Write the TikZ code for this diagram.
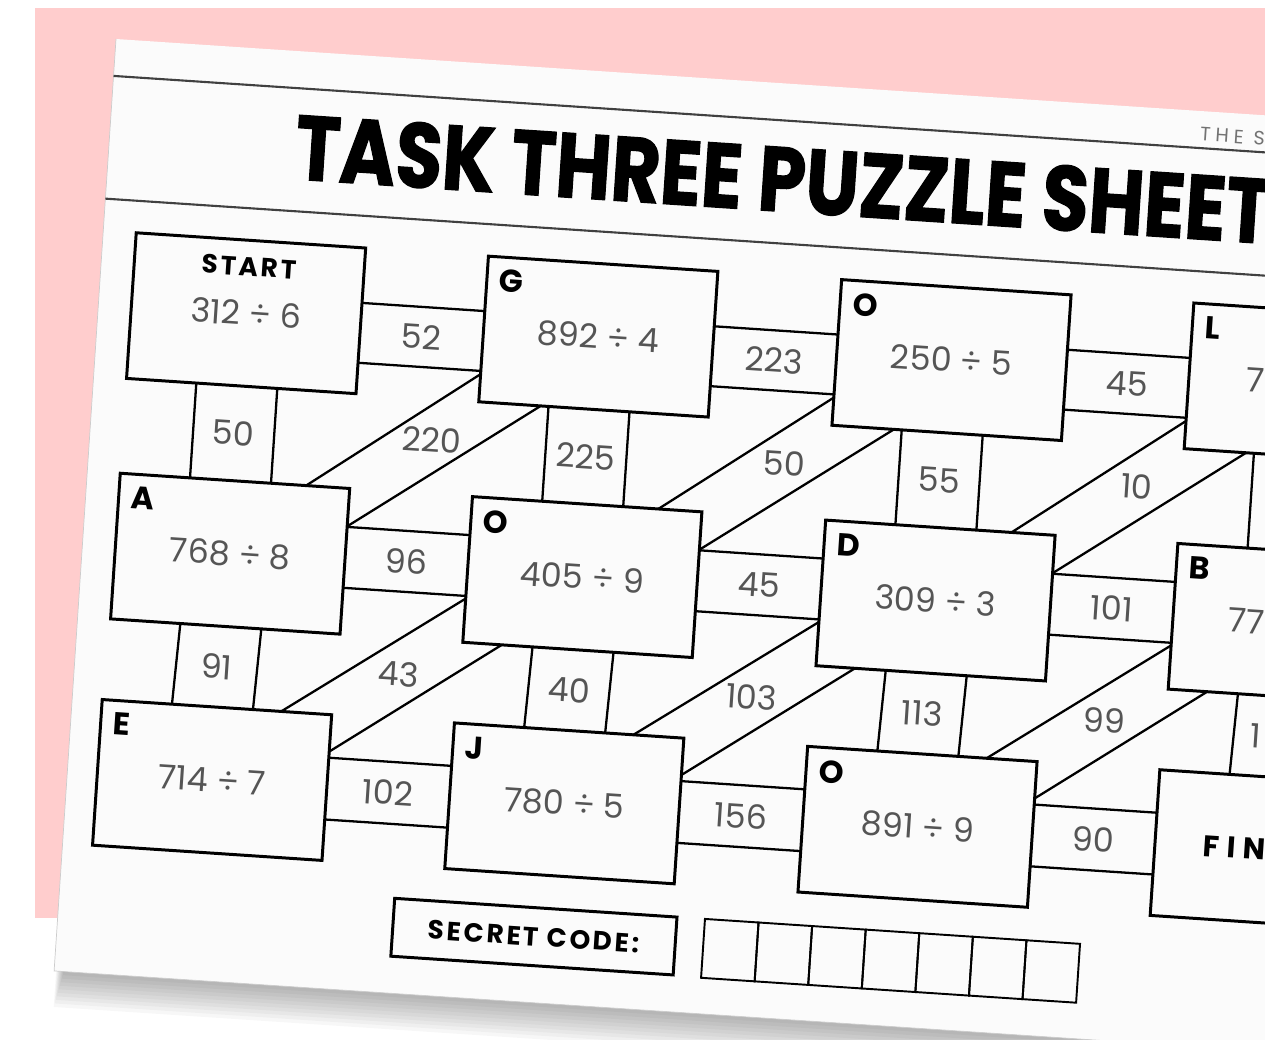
\documentclass[tikz,border=0pt]{standalone}
\usepackage{fontspec}
\usepackage{graphicx}
\setmainfont{Poppins}
\newfontfamily\spacedfont[LetterSpace=10]{Poppins}
\newfontfamily\widefont[LetterSpace=25]{Poppins}
\newfontfamily\titlefont[BoldFeatures={FakeBold=1.5}]{Poppins}
\usetikzlibrary{calc}

\definecolor{pinkbg}{RGB}{255,205,205}
\definecolor{sheet}{RGB}{251,251,251}
\definecolor{numgray}{RGB}{85,85,85}

\begin{document}
\begin{tikzpicture}[x=0.02cm, y=-0.02cm,
  cell/.style={draw, line width=1.7pt, fill=sheet, minimum width=4.6cm, minimum height=2.92cm, inner sep=0pt, outer sep=0pt, text=numgray, font=\fontsize{19}{19}\selectfont},
  tag/.style={anchor=north west, inner xsep=0.25cm, inner ysep=0.24cm, text=black, font=\fontsize{18}{18}\selectfont\bfseries},
  head/.style={anchor=north, inner sep=0pt, inner ysep=0.33cm, text=black, font=\spacedfont\fontsize{15}{15}\selectfont\bfseries},
  band/.style={line width=1.3pt},
  num/.style={inner sep=0pt, text=numgray, font=\fontsize{19}{19}\selectfont},
  rule/.style={line width=1.2pt, black!75},
  codebox/.style={draw, line width=1.7pt, minimum width=5.66cm, minimum height=1.16cm, inner sep=0pt, font=\spacedfont\fontsize{15}{15}\selectfont\bfseries},
  slot/.style={draw, line width=1.1pt, minimum width=1.074cm, minimum height=1.18cm, inner sep=0pt, outer sep=0pt}
]
\useasboundingbox (0,0) rectangle (1265,1039);
\clip (0,0) rectangle (1265,1039);
\fill[white] (0,0) rectangle (1265,1039);
\fill[pinkbg] (35,8) rectangle (1265,918);

\begin{scope}[shift={(116,39)}, rotate=-3.8, transform shape]

% sheet and header
\foreach \k in {1,...,10}
  \fill[black, opacity=0.03] ({10-0.8*\k},900) rectangle (1450,{934+3.6*\k});
\fill[sheet] (0,0) rectangle (1450,934);
\draw[black!20, line width=0.4pt] (0,0) -- (0,934) -- (1450,934);
\draw[rule] (0,37) -- (1450,37);
\draw[rule] (0,160) -- (1450,160);
\node[anchor=base west, inner sep=0pt, font=\titlefont\fontsize{52}{52}\selectfont\bfseries] (title) at (186,128) {\scalebox{0.83}[1]{TASK THREE PUZZLE SHEET}};
\node[anchor=west, inner sep=0pt, text=black!55, font=\widefont\fontsize{11}{11}\selectfont] (brand) at (1088,23) {THE S};

% boxes
\node[cell, label={[head]north:START}] (b11) at (148,265) {312 ÷ 6};
\node[cell, label={[tag]north west:G}] (b12) at (501,265) {892 ÷ 4};
\node[cell, label={[tag]north west:O}] (b13) at (855,265) {250 ÷ 5};
\node[cell, label={[tag]north west:L}] (b14) at (1208,265) {};
\node[cell, label={[tag]north west:A}] (b21) at (148,506) {768 ÷ 8};
\node[cell, label={[tag]north west:O}] (b22) at (501,506) {405 ÷ 9};
\node[cell, label={[tag]north west:D}] (b23) at (855,506) {309 ÷ 3};
\node[cell, label={[tag]north west:B}] (b24) at (1208,506) {};
\node[cell, label={[tag]north west:E}] (b31) at (145,733) {714 ÷ 7};
\node[cell, label={[tag]north west:J}] (b32) at (498,733) {780 ÷ 5};
\node[cell, label={[tag]north west:O}] (b33) at (852,733) {891 ÷ 9};
\node[cell] (b34) at (1205,733) {};
\node[num, anchor=west] at ($(b14.west)!0.25!(b14.east)$) {7};
\node[num, anchor=west] at ($(b24.west)!0.24!(b24.east)$) {77};
\node[anchor=west, inner sep=0pt, font=\widefont\fontsize{17}{17}\selectfont\bfseries] (fin) at ($(b34.west)!0.21!(b34.east)$) {FIN};

% horizontal bands
\foreach \r/\c/\n/\f/\g/\lab in {1/1/2/0.377/0.788/52, 1/2/3/0.377/0.788/223, 1/3/4/0.377/0.788/45,
                                 2/1/2/0.264/0.682/96, 2/2/3/0.264/0.682/45, 2/3/4/0.264/0.682/101,
                                 3/1/2/0.295/0.719/102, 3/2/3/0.295/0.719/156, 3/3/4/0.295/0.719/90} {
  \draw[band] ($(b\r\c.north east)!\f!(b\r\c.south east)$) coordinate (ha) -- ($(b\r\n.north west)!\f!(b\r\n.south west)$) coordinate (hb)
              ($(b\r\c.north east)!\g!(b\r\c.south east)$) coordinate (hc) -- ($(b\r\n.north west)!\g!(b\r\n.south west)$) coordinate (hd);
  \node[num] at ($(ha)!0.5!(hd)$) {\lab};
}

% vertical bands
\foreach \c/\lab in {1/50,2/225,3/55} {
  \draw[band] ($(b1\c.south west)!0.304!(b1\c.south east)$) coordinate (va) -- ($(b2\c.north west)!0.304!(b2\c.north east)$) coordinate (vb)
              ($(b1\c.south west)!0.657!(b1\c.south east)$) coordinate (vc) -- ($(b2\c.north west)!0.657!(b2\c.north east)$) coordinate (vd);
  \node[num] at ($(va)!0.5!(vd)$) {\lab};
}
\draw[band] ($(b14.south west)!0.304!(b14.south east)$) -- ($(b24.north west)!0.304!(b24.north east)$)
            ($(b14.south west)!0.657!(b14.south east)$) -- ($(b24.north west)!0.657!(b24.north east)$);
\foreach \c/\lab in {1/91,2/40,3/113} {
  \draw[band] ($(b2\c.south west)!0.304!(b2\c.south east)$) coordinate (va) -- ($(b3\c.north west)!0.304!(b3\c.north east)$) coordinate (vb)
              ($(b2\c.south west)!0.657!(b2\c.south east)$) coordinate (vc) -- ($(b3\c.north west)!0.657!(b3\c.north east)$) coordinate (vd);
  \node[num] at ($(va)!0.5!(vd)$) {\lab};
}
\draw[band] ($(b24.south west)!0.304!(b24.south east)$) coordinate (va) -- ($(b34.north west)!0.304!(b34.north east)$) coordinate (vb)
            ($(b24.south west)!0.657!(b24.south east)$) coordinate (vc) -- ($(b34.north west)!0.657!(b34.north east)$) coordinate (vd);
\node[num, anchor=west] at ($($(va)!0.5!(vb)$)!0.2!($(vc)!0.5!(vd)$)$) {1};

% diagonal bands
\foreach \c/\lab [count=\n from 2] in {1/220,2/50,3/10} {
  \draw[band] ($(b1\n.north west)!0.81!(b1\n.south west)$) coordinate (da) -- ($(b2\c.north west)!0.81!(b2\c.north east)$) coordinate (db)
              ($(b1\n.south west)!0.27!(b1\n.south east)$) coordinate (dc) -- ($(b2\c.north east)!0.26!(b2\c.south east)$) coordinate (dd);
  \node[num] at ($($(da)!0.43!(db)$)!0.5!($(dc)!0.43!(dd)$)$) {\lab};
}
\foreach \c/\lab [count=\n from 2] in {1/43,2/103,3/99} {
  \draw[band] ($(b2\n.north west)!0.70!(b2\n.south west)$) coordinate (da) -- ($(b3\c.north west)!0.78!(b3\c.north east)$) coordinate (db)
              ($(b2\n.south west)!0.17!(b2\n.south east)$) coordinate (dc) -- ($(b3\c.north east)!0.253!(b3\c.south east)$) coordinate (dd);
  \node[num] at ($($(da)!0.475!(db)$)!0.5!($(dc)!0.475!(dd)$)$) {\lab};
}

% secret code
\node[codebox] (secret) at (476.5,868) {SECRET CODE:};
\foreach \i in {1,...,7}
  \node[slot] (slot\i) at ({646+53.7*(\i-0.5)},868.5) {};

\end{scope}
\end{tikzpicture}
\end{document}
